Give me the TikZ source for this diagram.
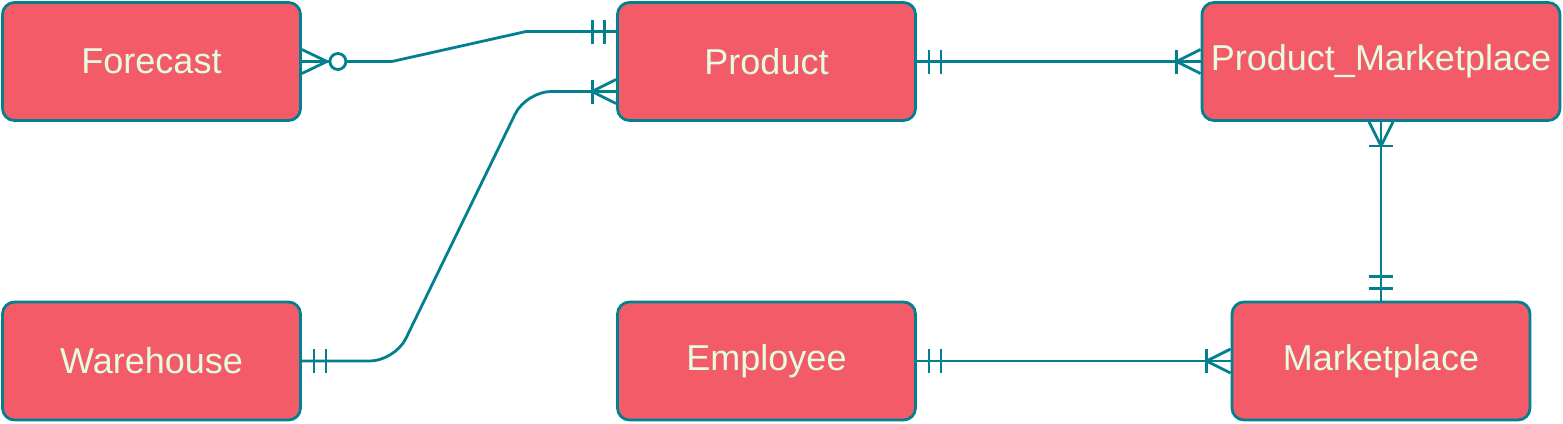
\documentclass[tikz,border=0pt]{standalone}
\usepackage{fontspec}
\setmainfont{Liberation Sans}
\usetikzlibrary{decorations.markings}

\definecolor{entfill}{HTML}{F45B69}
\definecolor{entline}{HTML}{028090}
\definecolor{enttext}{HTML}{E4FDE1}

\tikzset{
    entity/.style={rectangle, rounded corners=12pt, draw=entline, fill=entfill, line width=2.8pt,
        minimum width=298pt, minimum height=118pt, inner sep=0pt, text=enttext,
        font=\fontsize{36}{40}\selectfont},
    rel/.style={draw=entline, line width=2.8pt, sharp corners},
    one start/.style={postaction={decorate, decoration={markings,
        mark=at position 12pt with {\draw[rel] (0,-12pt) -- (0,12pt);},
        mark=at position 24pt with {\draw[rel] (0,-12pt) -- (0,12pt);}}}},
    one end/.style={postaction={decorate, decoration={markings,
        mark=at position -24pt with {\draw[rel] (0,-12pt) -- (0,12pt);},
        mark=at position -12pt with {\draw[rel] (0,-12pt) -- (0,12pt);}}}},
    many start/.style={postaction={decorate, decoration={markings,
        mark=at position 24pt with {\draw[rel] (0,-12pt) -- (0,12pt);
            \draw[rel] (0,0) -- (-24pt,12pt) (0,0) -- (-24pt,-12pt);}}}},
    many end/.style={postaction={decorate, decoration={markings,
        mark=at position -24pt with {\draw[rel] (0,-12pt) -- (0,12pt);
            \draw[rel] (0,0) -- (24pt,12pt) (0,0) -- (24pt,-12pt);}}}},
    zero many start/.style={postaction={decorate, decoration={markings,
        mark=at position 25pt with {\draw[rel] (0,0) -- (-25pt,12pt) (0,0) -- (-25pt,-12pt);},
        mark=at position 36pt with {\draw[rel, fill=white] (0,0) circle (8pt);}}}}
}

\begin{document}
\begin{tikzpicture}[x=1pt, y=-1pt]
    \useasboundingbox (0,0) rectangle (1563,423);

    % entities
    \node[entity] (forecast) at (151.5, 61.5) {Forecast};
    \node[entity] (product) at (766.5, 61.5) {Product};
    \node[entity, minimum width=358pt] (prodmarket) at (1381, 61.5) {Product\_Marketplace};
    \node[entity] (warehouse) at (151.5, 361) {Warehouse};
    \node[entity] (employee) at (766.5, 361) {Employee};
    \node[entity] (market) at (1381, 361) {Marketplace};

    % relations
    \draw[rel, zero many start, one end] (forecast.east) -- ++(90,0)
        -- ([xshift=-90pt, yshift=30pt]product.west) -- ([yshift=30pt]product.west);
    \draw[rel, rounded corners=25pt, one start, many end] (warehouse.east) -- ++(93,0)
        -- ([xshift=-90pt, yshift=-30pt]product.west) -- ([yshift=-30pt]product.west);
    \draw[rel, one start, many end] (product.east) -- (prodmarket.west);
    \draw[rel, many start, one end] (prodmarket.south) -- (market.north);
    \draw[rel, one start, many end] (employee.east) -- (market.west);
\end{tikzpicture}
\end{document}
